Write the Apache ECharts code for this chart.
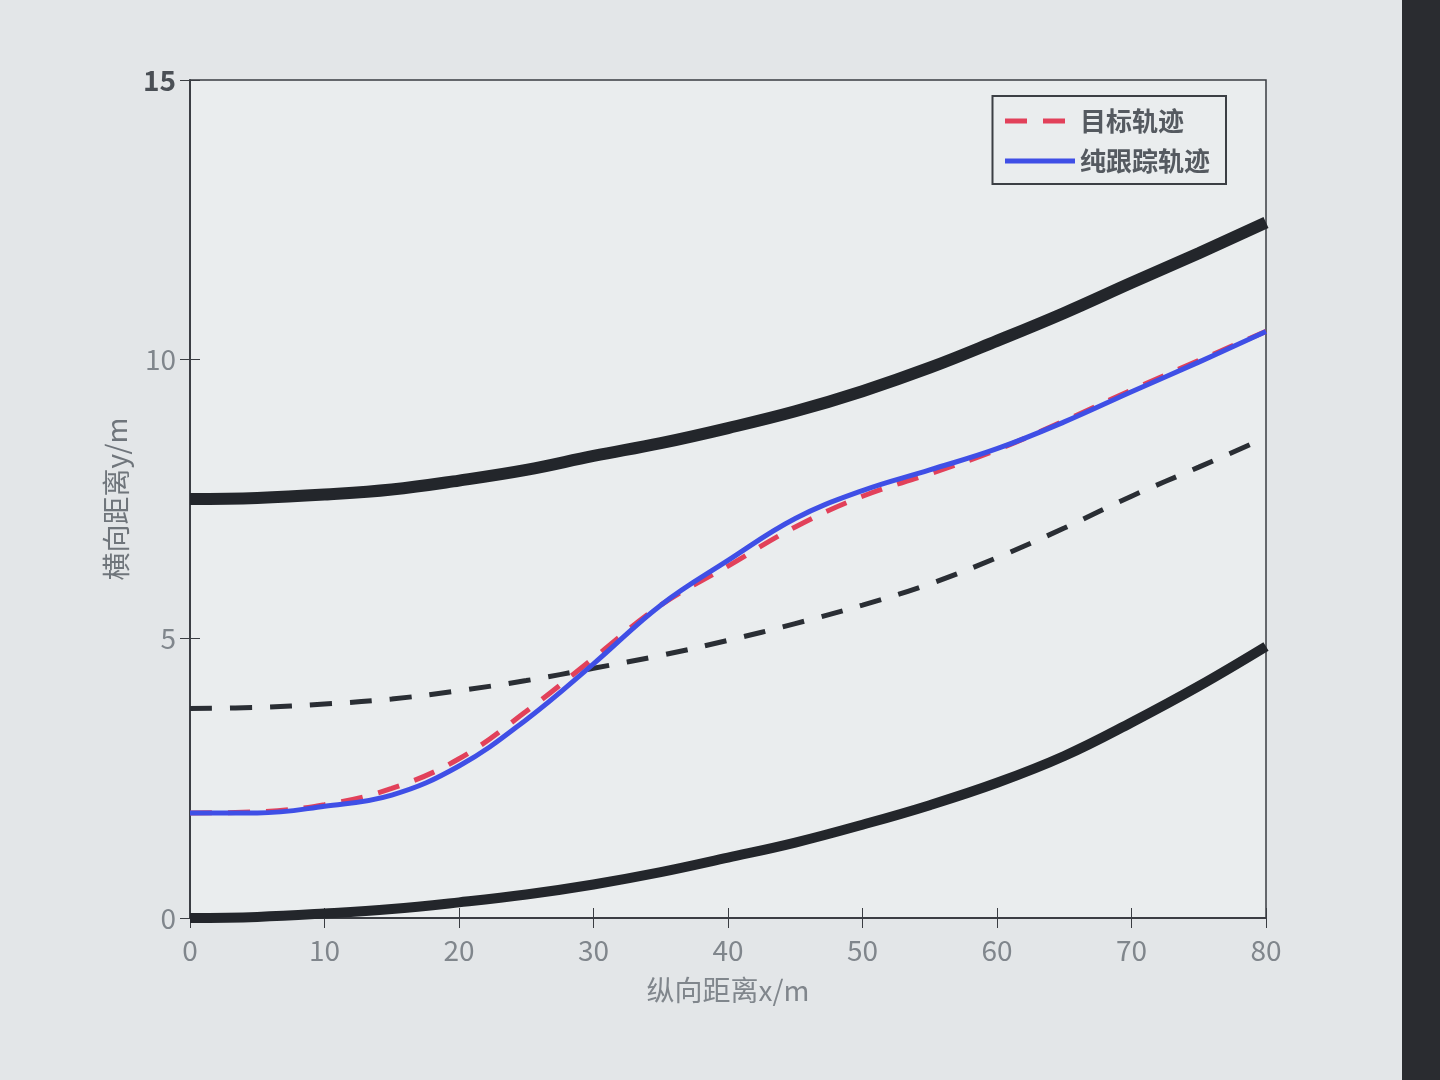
<!DOCTYPE html>
<html>
<head>
<meta charset="utf-8">
<script src="https://cdn.jsdelivr.net/npm/echarts@6/dist/echarts.min.js"></script>
<style>html,body{margin:0;padding:0;background:#e3e6e8;}#c{width:1440px;height:1080px;}</style>
</head>
<body>
<div id="c"></div>
<script>
const xs = [0,5,10,15,20,25,30,35,40,45,50,55,60,65,70,75,80];
const upperBound = [7.5,7.52,7.58,7.67,7.83,8.02,8.27,8.5,8.77,9.07,9.43,9.85,10.33,10.83,11.37,11.9,12.45];
const lowerBound = [0,0.02,0.08,0.16,0.28,0.42,0.6,0.82,1.08,1.35,1.67,2.02,2.42,2.9,3.5,4.15,4.86];
const centerLine = [3.75,3.77,3.83,3.92,4.07,4.25,4.47,4.7,4.97,5.27,5.6,5.98,6.45,6.98,7.55,8.07,8.6];
const targetPath = [1.88,1.9,2.03,2.32,2.85,3.7,4.65,5.6,6.3,7.0,7.55,7.95,8.38,8.9,9.45,9.98,10.5];
const trackPath = [1.88,1.88,2.0,2.2,2.72,3.55,4.55,5.6,6.4,7.15,7.65,8.02,8.4,8.88,9.42,9.95,10.5];
const xTicks = [0,10,20,30,40,50,60,70,80];
const yTicks = [0,5,10,15];
const names = ['目标轨迹','纯跟踪轨迹'];

const pair = arr => xs.map((x,i)=>[x,arr[i]]);
const font = '"Noto Sans CJK SC", "Liberation Sans", sans-serif';
const chart = echarts.init(document.getElementById('c'));
chart.setOption({
  backgroundColor: '#e3e6e8',
  animation: false,
  grid: {left:190, right:174, top:80, bottom:162, show:true, backgroundColor:'#eaedee', borderColor:'#3a3d42', borderWidth:1.5},
  legend: {
    data: names, orient:'vertical', right:214, top:96,
    backgroundColor:'#eaedee', borderColor:'#3c3f44', borderWidth:2,
    padding:[12,16,10,10], itemGap:14, itemWidth:70, itemHeight:14,
    itemStyle:{opacity:0, borderWidth:0},
    lineStyle:{width:5},
    textStyle:{fontFamily:font, fontSize:26, color:'#555a60', fontWeight:'bold'}
  },
  xAxis: [{
    type:'value', min:0, max:80, interval:10,
    name:'纵向距离x/m', nameLocation:'middle', nameGap:58,
    nameTextStyle:{fontFamily:font, fontSize:28, color:'#80868c'},
    axisLine:{show:true, lineStyle:{color:'#3a3d42', width:1.5}},
    axisTick:{inside:true, length:10, lineStyle:{color:'#3a3d42'}},
    axisLabel:{fontFamily:font, fontSize:28, color:'#80868c', margin:18},
    splitLine:{show:false}
  },{
    type:'value', min:0, max:80, interval:10, position:'top',
    axisLine:{show:true, lineStyle:{color:'#3a3d42', width:1.5}},
    axisTick:{inside:true, length:10, lineStyle:{color:'#3a3d42'}},
    axisLabel:{show:false}, splitLine:{show:false}
  }],
  yAxis: [{
    type:'value', min:0, max:15, interval:5,
    name:'横向距离y/m', nameLocation:'middle', nameGap:60, nameRotate:90,
    nameTextStyle:{fontFamily:font, fontSize:28, color:'#6f757b'},
    axisLine:{show:true, lineStyle:{color:'#3a3d42', width:1.5}},
    axisTick:{inside:true, length:10, lineStyle:{color:'#3a3d42'}},
    axisLabel:{fontFamily:font, fontSize:28, color:'#80868c', margin:14,
      formatter: v => !yTicks.includes(v) ? '' : (v === 15 ? '{b|15}' : String(v)),
      rich:{b:{fontFamily:font, fontSize:28, fontWeight:'bold', color:'#4a4f55'}}},
    splitLine:{show:false}
  },{
    type:'value', min:0, max:15, interval:5, position:'right',
    axisLine:{show:true, lineStyle:{color:'#3a3d42', width:1.5}},
    axisTick:{inside:true, length:10, lineStyle:{color:'#3a3d42'}},
    axisLabel:{show:false}, splitLine:{show:false}
  }],
  series: [
    {type:'line', data:pair(upperBound), smooth:0.4, showSymbol:false, lineStyle:{color:'#23262b', width:12}, z:2},
    {type:'line', data:pair(lowerBound), smooth:0.4, showSymbol:false, lineStyle:{color:'#23262b', width:10}, z:2},
    {type:'line', data:pair(centerLine), smooth:0.4, showSymbol:false, lineStyle:{color:'#2a2e34', width:5, type:[22,18]}, z:2},
    {name:names[0], type:'line', data:pair(targetPath), smooth:0.4, showSymbol:false, lineStyle:{color:'#e2415a', width:5, type:[22,16]}, itemStyle:{color:'#e2415a'}, z:3},
    {name:names[1], type:'line', data:pair(trackPath), smooth:0.4, showSymbol:false, lineStyle:{color:'#3f4fe6', width:5}, itemStyle:{color:'#3f4fe6'}, z:4}
  ],
  graphic: [{type:'rect', shape:{x:1402, y:0, width:38, height:1080}, style:{fill:'#2a2c30'}}]
});
</script>
</body>
</html>
